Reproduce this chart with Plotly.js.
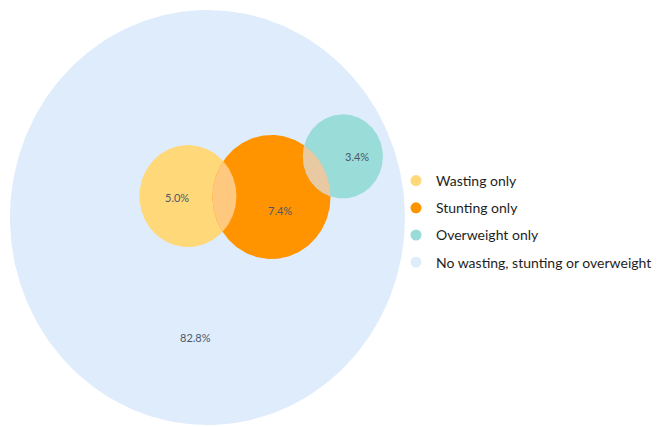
<!DOCTYPE html>
<html>
<head>
<meta charset="utf-8">
<script src="https://cdn.plot.ly/plotly-3.0.1.min.js"></script>
<style>html,body{margin:0;padding:0;background:#fff;}#chart{width:657px;height:427px;}</style>
</head>
<body>
<div id="chart"></div>
<script>
// ---- data ----
var categories = ["No wasting, stunting or overweight", "Wasting only", "Stunting only", "Overweight only"];
var values = [82.8, 5.0, 7.4, 3.4];          // percent of children
var legendOrder = [1, 2, 3, 0];
var labelText = ["82.8%", "5.0%", "7.4%", "3.4%"];

// ---- layout / style ----
var colors = ["#DFECFC", "#FFD87A", "#FF9400", "#99DCD8"];
var overlapColors = {"1-2": "#FFC87F", "2-3": "#E8C9A2"};
var overlapPairs = [[1, 2], [2, 3]];
// circle centres (data units, radius unit = sqrt(percent))
var centers = [[9.56, 9.54], [8.66, 8.60], [12.51, 8.64], [15.80, 6.86]];
var labelPos = [[8.99, 14.82], [8.17, 8.68], [12.90, 9.25], [16.45, 6.87]];
var pxPerUnitX = 21.7, pxPerUnitY = 22.8;
var W = 657, H = 427;

function radius(v) { return Math.sqrt(v); }

function arc(c, r, a0, a1, n) {
  var xs = [], ys = [];
  for (var i = 0; i <= n; i++) {
    var a = a0 + (a1 - a0) * i / n;
    xs.push(c[0] + r * Math.cos(a));
    ys.push(c[1] + r * Math.sin(a));
  }
  return [xs, ys];
}

var traces = [];
// circles
for (var i = 0; i < values.length; i++) {
  var p = arc(centers[i], radius(values[i]), 0, 2 * Math.PI, 240);
  traces.push({
    type: "scatter", mode: "lines", x: p[0], y: p[1], fill: "toself",
    fillcolor: colors[i], line: {width: 0, color: colors[i]},
    hoverinfo: "skip", showlegend: false
  });
}
// overlaps (lens shapes)
overlapPairs.forEach(function (pr) {
  var c1 = centers[pr[0]], c2 = centers[pr[1]];
  var r1 = radius(values[pr[0]]), r2 = radius(values[pr[1]]);
  var dx = c2[0] - c1[0], dy = c2[1] - c1[1];
  var d = Math.sqrt(dx * dx + dy * dy);
  var t12 = Math.atan2(dy, dx), t21 = t12 + Math.PI;
  var a1 = Math.acos((d * d + r1 * r1 - r2 * r2) / (2 * d * r1));
  var a2 = Math.acos((d * d + r2 * r2 - r1 * r1) / (2 * d * r2));
  var p1 = arc(c1, r1, t12 - a1, t12 + a1, 80);
  var p2 = arc(c2, r2, t21 - a2, t21 + a2, 80);
  var col = overlapColors[pr[0] + "-" + pr[1]];
  traces.push({
    type: "scatter", mode: "lines", x: p1[0].concat(p2[0]), y: p1[1].concat(p2[1]),
    fill: "toself", fillcolor: col, line: {width: 0, color: col},
    hoverinfo: "skip", showlegend: false
  });
});
// legend entries
legendOrder.forEach(function (k, j) {
  traces.push({
    type: "scatter", mode: "markers", x: [null], y: [null],
    name: categories[k], legendgroup: "g" + j,
    marker: {size: 11, color: colors[k], symbol: "circle"},
    showlegend: true, hoverinfo: "skip"
  });
});

var annotations = values.map(function (v, i) {
  return {
    x: labelPos[i][0], y: labelPos[i][1], xref: "x", yref: "y",
    text: labelText[i], showarrow: false,
    font: {family: "Lato, 'Open Sans', sans-serif", size: 11, color: "#4C5868"}
  };
});

var layout = {
  width: W, height: H,
  margin: {l: 0, r: 0, t: 0, b: 0},
  paper_bgcolor: "#ffffff", plot_bgcolor: "#ffffff",
  xaxis: {range: [0, W / pxPerUnitX], visible: false, fixedrange: true},
  yaxis: {range: [H / pxPerUnitY, 0], visible: false, fixedrange: true},
  showlegend: true,
  legend: {
    x: 396 / W, xanchor: "left", y: 1 - 165 / H, yanchor: "top",
    bgcolor: "rgba(0,0,0,0)", tracegroupgap: 6,
    font: {family: "Lato, 'Open Sans', sans-serif", size: 14, color: "#1E1E1E"}
  },
  annotations: annotations
};

Plotly.newPlot("chart", traces, layout, {displayModeBar: false, staticPlot: true});
</script>
</body>
</html>
